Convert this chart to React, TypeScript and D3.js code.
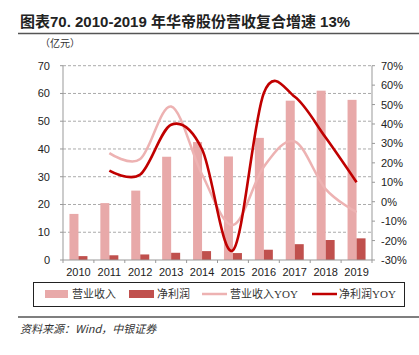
import React from "react";
import * as d3 from "d3";

const years = ["2010","2011","2012","2013","2014","2015","2016","2017","2018","2019"];
const revenue = [16.6, 20.5, 25.0, 37.2, 42.5, 37.3, 44.0, 57.4, 61.0, 57.7];
const profit = [1.4, 1.7, 2.0, 2.6, 3.2, 2.5, 3.7, 5.7, 7.2, 7.8];
const revYoy = [null, 25, 22, 49, 14, -12, 18, 31, 6.5, -5.4];
const profitYoy = [null, 16, 14, 39.6, 27, -25, 56, 54, 33, 10];
const leftTicks = [0, 10, 20, 30, 40, 50, 60, 70];
const rightTicks = [-30, -20, -10, 0, 10, 20, 30, 40, 50, 60, 70];

const C_REV = "#E8A9A9";
const C_PROF = "#C0504D";
const C_REVL = "#EDB2B2";
const C_PROFL = "#C00000";
const FONT = "'Liberation Sans', Arial, sans-serif";
const CJK = "'Liberation Serif', 'Noto Sans CJK SC', serif";

export default function App() {
  const L = 63, R = 372, T = 65.7, B = 260;
  const x = d3.scaleBand<string>().domain(years).range([L, R]).padding(0);
  const yL = d3.scaleLinear().domain([0, 70]).range([B, T]);
  const yR = d3.scaleLinear().domain([-30, 70]).range([B, T]);
  const bw = 9;
  const cx = (i: number) => (x(years[i]) as number) + x.bandwidth() / 2;

  const line = d3.line<[number, number]>().x(d => d[0]).y(d => d[1]).curve(d3.curveCardinal.tension(0));
  const pts = (arr: (number | null)[]) =>
    arr.map((v, i) => (v == null ? null : [cx(i), yR(v)] as [number, number])).filter(Boolean) as [number, number][];

  return (
    <svg width={419} height={355} style={{ position: "absolute", left: 0, top: 0 }}>
      <rect width={419} height={355} fill="#fff" />
      <text x={20} y={27} fontFamily="'Liberation Sans', 'Noto Sans CJK SC', sans-serif" fontWeight="bold" fontSize={15} fill="#222">
        图表70. 2010-2019 年华帝股份营收复合增速 13%
      </text>
      <line x1={18} x2={419} y1={33.5} y2={33.5} stroke="#555" strokeWidth={1.3} />
      <text x={60} y={47} textAnchor="middle" fontFamily="'Noto Sans CJK SC', sans-serif" fontSize={10} fill="#333">（亿元）</text>

      {/* gridlines */}
      {leftTicks.filter(t => t > 0).map(t => (
        <line key={t} x1={L} x2={R} y1={yL(t)} y2={yL(t)} stroke="#A0A0A0" strokeDasharray="3,2" strokeWidth={0.9} />
      ))}

      {/* bars */}
      {revenue.map((v, i) => (
        <rect key={"r" + i} x={cx(i) - bw} y={yL(v)} width={bw} height={B - yL(v)} fill={C_REV} />
      ))}
      {profit.map((v, i) => (
        <rect key={"p" + i} x={cx(i)} y={yL(v)} width={bw} height={B - yL(v)} fill={C_PROF} />
      ))}

      {/* axes */}
      <line x1={L} x2={L} y1={T} y2={B} stroke="#999" />
      <line x1={R} x2={R} y1={T} y2={B} stroke="#999" />
      <line x1={L} x2={R} y1={B} y2={B} stroke="#999" />
      {leftTicks.map(t => (
        <g key={"lt" + t}>
          <line x1={L - 3} x2={L} y1={yL(t)} y2={yL(t)} stroke="#999" />
          <text x={50} y={yL(t) + 4} textAnchor="end" fontFamily={FONT} fontSize={11} fill="#222">{t}</text>
        </g>
      ))}
      {rightTicks.map(t => (
        <g key={"rt" + t}>
          <line x1={R} x2={R + 3} y1={yR(t)} y2={yR(t)} stroke="#999" />
          <text x={381} y={yR(t) + 4} textAnchor="start" fontFamily={FONT} fontSize={11} fill="#222">{t}%</text>
        </g>
      ))}
      {years.map((yr, i) => (
        <g key={yr}>
          <line x1={x(yr) as number} x2={x(yr) as number} y1={B} y2={B + 3} stroke="#999" />
          <text x={cx(i)} y={276} textAnchor="middle" fontFamily={FONT} fontSize={11} fill="#222">{yr}</text>
        </g>
      ))}
      <line x1={R} x2={R} y1={B} y2={B + 3} stroke="#999" />

      {/* lines */}
      <path d={line(pts(revYoy)) || ""} fill="none" stroke={C_REVL} strokeWidth={2.5} />
      <path d={line(pts(profitYoy)) || ""} fill="none" stroke={C_PROFL} strokeWidth={2.6} />

      {/* legend */}
      <rect x={33.5} y={282.5} width={371} height={24} fill="#fff" stroke="#222" strokeWidth={1} />
      <rect x={45} y={290} width={23} height={8} fill={C_REV} />
      <text x={72} y={298} fontFamily={CJK} fontSize={11} fill="#333">营业收入</text>
      <rect x={129} y={290} width={25} height={8} fill={C_PROF} />
      <text x={157} y={298} fontFamily={CJK} fontSize={11} fill="#333">净利润</text>
      <line x1={202} x2={227} y1={294} y2={294} stroke={C_REVL} strokeWidth={2.5} />
      <text x={230} y={298} fontFamily={CJK} fontSize={11} fill="#333">营业收入YOY</text>
      <line x1={312} x2={337} y1={294} y2={294} stroke={C_PROFL} strokeWidth={2.5} />
      <text x={339} y={298} fontFamily={CJK} fontSize={11} fill="#333">净利润YOY</text>

      <line x1={18} x2={419} y1={317} y2={317} stroke="#555" strokeWidth={1.3} />
      <text x={20} y={333} fontFamily="'Noto Sans CJK SC', sans-serif" fontStyle="italic" fontSize={11} fill="#333">资料来源：Wind，中银证券</text>
    </svg>
  );
}
